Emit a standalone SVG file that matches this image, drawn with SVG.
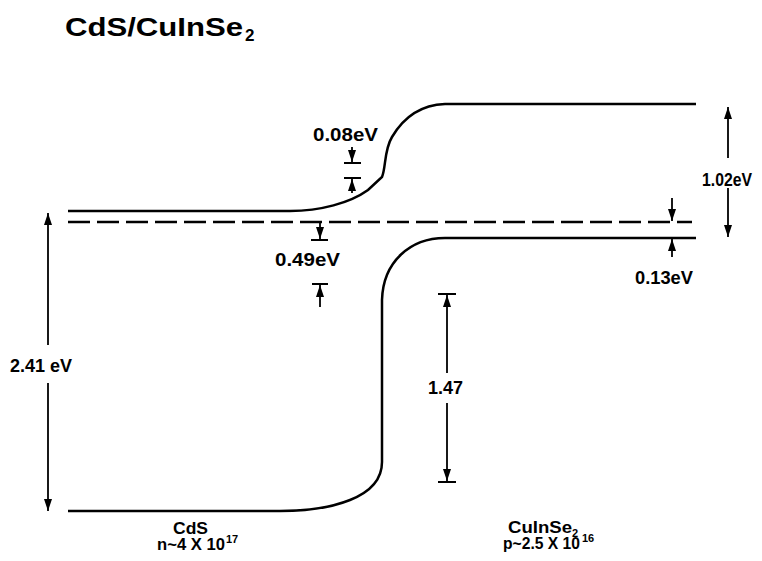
<svg xmlns="http://www.w3.org/2000/svg" width="762" height="561" viewBox="0 0 762 561">
<style>
.band{fill:none;stroke:#000;stroke-width:2.5}
.ar{fill:none;stroke:#000;stroke-width:1.8}
.bar{fill:none;stroke:#000;stroke-width:2}
text{font-family:"Liberation Sans",Arial,sans-serif;font-weight:bold;fill:#000}
.lb{font-size:18px}
.sm{font-size:17px}
.sup{font-size:11px}
</style>
<defs>
<marker id="ah" viewBox="0 0 12 8" refX="12" refY="4" markerWidth="12" markerHeight="8" markerUnits="userSpaceOnUse" orient="auto">
<path d="M0,0 L12,4 L0,8 Z" fill="#000"/>
</marker>
</defs>
<rect width="762" height="561" fill="#fff"/>
<g id="title">
<text x="65" y="36" font-size="25" textLength="178" lengthAdjust="spacingAndGlyphs">CdS/CuInSe</text>
<text x="245" y="41" font-size="17">2</text>
</g>
<g id="bands">
<path class="band" d="M68,211 H290 C320,211 350,203 368,190 L382,177 C386,168 384,150 392,137 C402,120 418,105 445,104 H696"/>
<path class="band" d="M696,238 H445 C410,238 383,262 382,300 V462 C382,480 370,492 350,500 C330,508 310,511 280,511 H68"/>
<path class="band" d="M68,222 H692" stroke-dasharray="22 7" stroke-width="2.3"/>
</g>
<g id="connectors">
<line class="ar" x1="48" y1="345" x2="48" y2="213" marker-end="url(#ah)"/>
<line class="ar" x1="48" y1="383" x2="48" y2="511" marker-end="url(#ah)"/>
<line class="ar" x1="728" y1="158" x2="728" y2="107" marker-end="url(#ah)"/>
<line class="ar" x1="728" y1="188" x2="728" y2="237" marker-end="url(#ah)"/>
<line class="ar" x1="672" y1="198" x2="672" y2="221" marker-end="url(#ah)"/>
<line class="ar" x1="672" y1="257" x2="672" y2="239" marker-end="url(#ah)"/>
<line class="ar" x1="352" y1="147" x2="352" y2="162" marker-end="url(#ah)"/>
<line class="bar" x1="344" y1="163" x2="361" y2="163"/>
<line class="bar" x1="344" y1="178" x2="361" y2="178"/>
<line class="ar" x1="352" y1="193" x2="352" y2="179" marker-end="url(#ah)"/>
<line class="ar" x1="320" y1="223" x2="320" y2="239" marker-end="url(#ah)"/>
<line class="bar" x1="311" y1="240" x2="328" y2="240"/>
<line class="bar" x1="312" y1="284" x2="328" y2="284"/>
<line class="ar" x1="320" y1="307" x2="320" y2="285" marker-end="url(#ah)"/>
<line class="bar" x1="438" y1="294" x2="456" y2="294"/>
<line class="ar" x1="447" y1="373" x2="447" y2="295" marker-end="url(#ah)"/>
<line class="ar" x1="447" y1="403" x2="447" y2="481" marker-end="url(#ah)"/>
<line class="bar" x1="438" y1="482" x2="456" y2="482"/>
</g>
<g id="labels">
<text class="lb" x="702" y="186" textLength="50" lengthAdjust="spacingAndGlyphs">1.02eV</text>
<text class="lb" x="635" y="284" textLength="58" lengthAdjust="spacingAndGlyphs">0.13eV</text>
<text class="lb" x="313" y="141" textLength="65" lengthAdjust="spacingAndGlyphs">0.08eV</text>
<text class="lb" x="275" y="266" textLength="65" lengthAdjust="spacingAndGlyphs">0.49eV</text>
<text class="lb" x="10" y="372" textLength="62" lengthAdjust="spacingAndGlyphs">2.41 eV</text>
<text class="lb" x="428" y="394" textLength="35" lengthAdjust="spacingAndGlyphs">1.47</text>
</g>
<g id="cds">
<text class="sm" x="173" y="534" textLength="35" lengthAdjust="spacingAndGlyphs">CdS</text>
<text class="sm" x="157" y="550" textLength="68" lengthAdjust="spacingAndGlyphs">n~4 X 10</text>
<text class="sup" x="226" y="543">17</text>
</g>
<g id="cuinse2">
<text class="sm" x="508" y="533" textLength="64" lengthAdjust="spacingAndGlyphs">CuInSe</text>
<text class="sup" x="572" y="537">2</text>
<text class="sm" x="503" y="549" textLength="77" lengthAdjust="spacingAndGlyphs">p~2.5 X 10</text>
<text class="sup" x="582" y="542">16</text>
</g>
</svg>
